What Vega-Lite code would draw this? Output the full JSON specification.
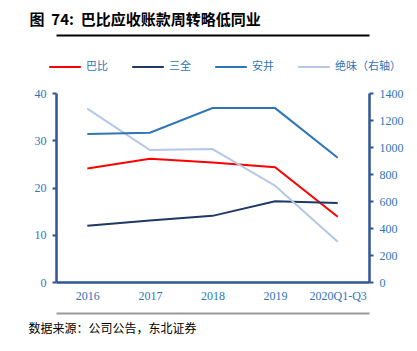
{
  "$schema": "https://vega.github.io/schema/vega-lite/v6.json",
  "width": 313,
  "height": 189,
  "autosize": {"type": "none"},
  "padding": {"left": 56, "top": 93, "right": 48, "bottom": 69},
  "background": "white",
  "config": {
    "view": {"stroke": null},
    "axis": {"grid": false}
  },
  "data": {
    "values": [
      {"year": "2016", "series": "巴比", "value": 24.0},
      {"year": "2017", "series": "巴比", "value": 26.1},
      {"year": "2018", "series": "巴比", "value": 25.3},
      {"year": "2019", "series": "巴比", "value": 24.3},
      {"year": "2020Q1-Q3", "series": "巴比", "value": 13.8},
      {"year": "2016", "series": "三全", "value": 11.9},
      {"year": "2017", "series": "三全", "value": 13.0},
      {"year": "2018", "series": "三全", "value": 14.0},
      {"year": "2019", "series": "三全", "value": 17.1},
      {"year": "2020Q1-Q3", "series": "三全", "value": 16.7},
      {"year": "2016", "series": "安井", "value": 31.3},
      {"year": "2017", "series": "安井", "value": 31.6},
      {"year": "2018", "series": "安井", "value": 36.8},
      {"year": "2019", "series": "安井", "value": 36.8},
      {"year": "2020Q1-Q3", "series": "安井", "value": 26.3},
      {"year": "2016", "series": "绝味（右轴）", "value": 1284},
      {"year": "2017", "series": "绝味（右轴）", "value": 978},
      {"year": "2018", "series": "绝味（右轴）", "value": 985},
      {"year": "2019", "series": "绝味（右轴）", "value": 713},
      {"year": "2020Q1-Q3", "series": "绝味（右轴）", "value": 298}
    ]
  },
  "layer": [
    {
      "transform": [{"filter": "datum.series === '巴比' || datum.series === '三全'"}],
      "mark": {"type": "line", "strokeWidth": 2},
      "encoding": {
        "x": {
          "field": "year",
          "type": "nominal",
          "sort": null,
          "axis": {
            "orient": "bottom",
            "labelAngle": 0,
            "labelFont": "Liberation Serif",
            "labelFontSize": 12,
            "labelColor": "#2E75B6",
            "labelPadding": 8,
            "ticks": false,
            "domainColor": "#2F5597",
            "domainWidth": 2.5,
            "title": "数据来源：公司公告，东北证券",
            "titleFont": "Noto Sans CJK SC",
            "titleFontSize": 12,
            "titleFontWeight": "normal",
            "titleColor": "#000000",
            "titleAnchor": "start",
            "titleAlign": "left",
            "titleBaseline": "alphabetic",
            "titleX": -28,
            "titleY": 50
          }
        },
        "y": {
          "field": "value",
          "type": "quantitative",
          "scale": {"domain": [0, 40]},
          "axis": {
            "orient": "left",
            "values": [0, 10, 20, 30, 40],
            "title": null,
            "labelFont": "Liberation Serif",
            "labelFontSize": 12,
            "labelColor": "#2E75B6",
            "labelPadding": 6,
            "tickSize": 4,
            "tickWidth": 2,
            "tickColor": "#2F5597",
            "domainColor": "#2F5597",
            "domainWidth": 2.5
          }
        },
        "color": {
          "field": "series",
          "type": "nominal",
          "scale": {
            "domain": ["巴比", "三全", "安井", "绝味（右轴）"],
            "range": ["#FF0000", "#1F3864", "#2E75B6", "#B4C7E7"]
          },
          "legend": {
            "title": null,
            "orient": "none",
            "legendX": -8,
            "legendY": -43,
            "direction": "horizontal",
            "columns": 4,
            "columnPadding": 20,
            "symbolType": "stroke",
            "symbolSize": 1000,
            "symbolStrokeWidth": 2,
            "labelOffset": 4,
            "labelFont": "Noto Sans CJK SC",
            "labelFontSize": 11,
            "labelColor": "#2E75B6"
          }
        }
      }
    },
    {
      "transform": [{"filter": "datum.series === '绝味（右轴）'"}],
      "mark": {"type": "line", "strokeWidth": 2},
      "encoding": {
        "x": {
          "field": "year",
          "type": "nominal",
          "sort": null,
          "axis": {
            "orient": "top",
            "offset": 58,
            "labels": false,
            "ticks": false,
            "domain": true,
            "zindex": 1,
            "title": "图\u00a0\u00a074:\u00a0\u00a0巴比应收账款周转略低同业",
            "titleFont": "Noto Sans CJK SC",
            "titleFontSize": 15,
            "titleFontWeight": "bold",
            "titleColor": "#000000",
            "titleAlign": "left",
            "titleBaseline": "alphabetic",
            "titleX": -27,
            "titleY": -11,
            "domainColor": "#000000",
            "domainWidth": 2,
            "domainOpacity": 1
          }
        },
        "y": {
          "field": "value",
          "type": "quantitative",
          "scale": {"domain": [0, 1400]},
          "axis": {
            "orient": "right",
            "values": [0, 200, 400, 600, 800, 1000, 1200, 1400],
            "format": "d",
            "title": null,
            "labelFont": "Liberation Serif",
            "labelFontSize": 12,
            "labelColor": "#2E75B6",
            "labelPadding": 6,
            "tickSize": 4,
            "tickWidth": 2,
            "tickColor": "#2F5597",
            "domainColor": "#2F5597",
            "domainWidth": 2.5
          }
        },
        "color": {"field": "series", "type": "nominal"}
      }
    },
    {
      "transform": [{"filter": "datum.series === '安井'"}],
      "mark": {"type": "line", "strokeWidth": 2},
      "encoding": {
        "x": {
          "field": "year",
          "type": "nominal",
          "sort": null,
          "axis": {
            "orient": "bottom",
            "offset": 31,
            "labels": false,
            "ticks": false,
            "domain": true,
            "zindex": 1,
            "title": null,
            "domainColor": "#999999",
            "domainWidth": 2,
            "domainOpacity": 1
          }
        },
        "y": {
          "field": "value",
          "type": "quantitative",
          "scale": {"domain": [0, 40]},
          "axis": null
        },
        "color": {"field": "series", "type": "nominal"}
      }
    }
  ],
  "resolve": {
    "scale": {"y": "independent"},
    "axis": {"x": "independent", "y": "independent"}
  }
}
